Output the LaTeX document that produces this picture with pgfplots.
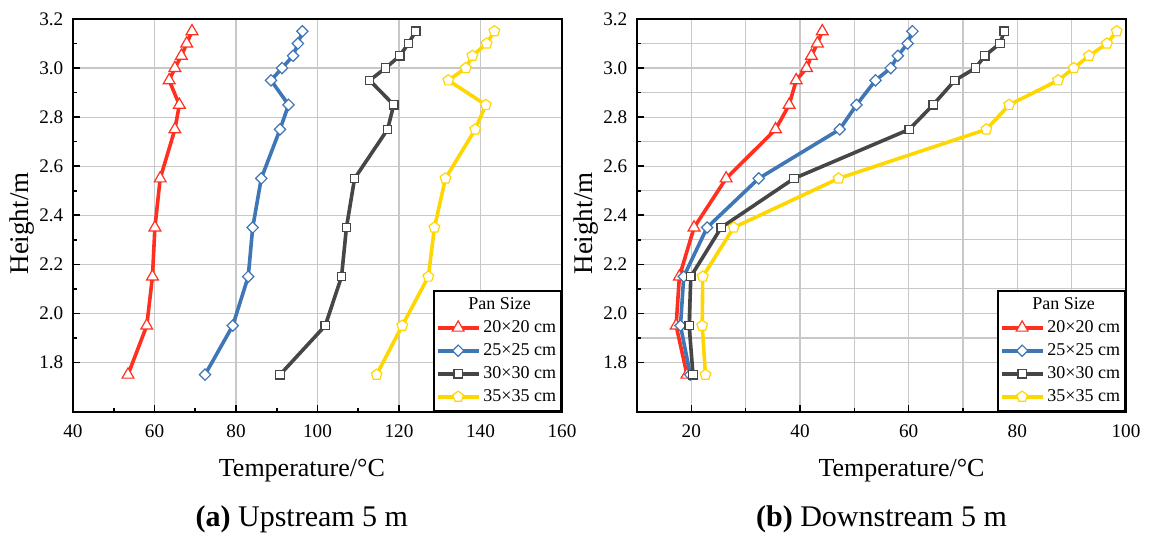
\documentclass[border=0pt]{standalone}
\usepackage{fontspec}
\setmainfont{Liberation Serif}
\usepackage{pgfplots}
\pgfplotsset{compat=1.18}
\definecolor{cred}{RGB}{255,48,32}
\definecolor{cblue}{RGB}{62,118,182}
\definecolor{cgray}{RGB}{70,70,70}
\definecolor{cyel}{RGB}{255,215,0}
\definecolor{cgrid}{RGB}{200,200,200}

\pgfplotsset{
 myaxis/.style={
  scale only axis, width=244.5pt, height=196.25pt,
  ymin=1.6, ymax=3.2, ytick={1.8,2,2.2,2.4,2.6,2.8,3,3.2}, minor y tick num=1,
  tick pos=left, tick align=inside,
  major tick length=3.5pt, minor tick length=2pt,
  tick style={black, line width=0.8pt},
  axis line style={line width=1pt},
  clip mode=individual,
  major grid style={draw=cgrid, line width=0.6pt},
  minor grid style={draw=cgrid, line width=0.6pt},
  /pgf/number format/assume math mode=true,
  yticklabel style={/pgf/number format/fixed, /pgf/number format/fixed zerofill, /pgf/number format/precision=1, font=\fontsize{9.6}{11}\selectfont, xshift=-1.3pt},
  xticklabel style={font=\fontsize{9.6}{11}\selectfont, yshift=-3pt},
  ylabel={Height/m},
  ylabel style={at={(axis description cs:-0.1043,0.479)}, anchor=center, font=\fontsize{13.5}{15}\selectfont},
  legend style={at={(1,0)}, anchor=south east, draw=black, line width=0.9pt, fill=white,
    font=\fontsize{9}{10}\selectfont, inner xsep=1pt, inner ysep=1.2pt, row sep=0pt,
    cells={anchor=west}, nodes={inner xsep=1.5pt, inner ysep=1.7pt, text height=6.6pt, text depth=1.5pt}},
  legend image code/.code={\draw[mark repeat=2,mark phase=2] plot coordinates {(0pt,0pt)(10.25pt,0pt)(20.5pt,0pt)};},
 },
 sred/.style={cred, line width=1.8pt, mark=triangle*, mark size=3.4pt, mark options={fill=white, draw=cred, line width=0.6pt, solid}},
 sblue/.style={cblue, line width=1.8pt, mark=square*, mark size=2pt, mark options={rotate=45, fill=white, draw=cblue, line width=0.6pt, solid}},
 sgray/.style={cgray, line width=1.8pt, mark=square*, mark size=2.1pt, mark options={fill=white, draw=cgray, line width=0.6pt, solid}},
 syel/.style={cyel, line width=1.8pt, mark=pentagon*, mark size=2.8pt, mark options={fill=white, draw=cyel, line width=0.6pt, solid}},
}

\begin{document}
\begin{tikzpicture}
\begin{axis}[myaxis, at={(0pt,0pt)},
  xmin=40, xmax=160, xtick={40,60,80,100,120,140,160}, minor x tick num=1,
  grid=major,
  xlabel={Temperature/°C},
  xlabel style={at={(axis description cs:0.468,0)}, anchor=base, yshift=-32.25pt, font=\fontsize{13}{15}\selectfont},
]
\addlegendimage{empty legend}
\addlegendentry{\hspace*{-7.5pt}Pan Size}
\addplot[sred] coordinates {(53.5,1.75)(58.1,1.95)(59.5,2.15)(60.1,2.35)(61.4,2.55)(65.0,2.75)(66.1,2.85)(63.6,2.95)(65.0,3.0)(66.6,3.05)(67.9,3.1)(69.2,3.15)};
\addlegendentry{20×20 cm}
\addplot[sblue] coordinates {(72.4,1.75)(79.2,1.95)(83.0,2.15)(84.1,2.35)(86.2,2.55)(90.8,2.75)(92.9,2.85)(88.6,2.95)(91.3,3.0)(94.0,3.05)(95.2,3.1)(96.3,3.15)};
\addlegendentry{25×25 cm}
\addplot[sgray] coordinates {(90.8,1.75)(101.9,1.95)(105.9,2.15)(107.1,2.35)(109.1,2.55)(117.2,2.75)(118.7,2.85)(112.8,2.95)(116.7,3.0)(120.2,3.05)(122.3,3.1)(124.1,3.15)};
\addlegendentry{30×30 cm}
\addplot[syel] coordinates {(114.5,1.75)(120.8,1.95)(127.2,2.15)(128.7,2.35)(131.4,2.55)(138.7,2.75)(141.3,2.85)(132.1,2.95)(136.4,3.0)(138.0,3.05)(141.5,3.1)(143.4,3.15)};
\addlegendentry{35×35 cm}
\node[anchor=base, yshift=-57.25pt, font=\fontsize{15}{18}\selectfont] at (axis description cs:0.468,0) {\textbf{(a)} Upstream 5 m};
\end{axis}

\begin{axis}[myaxis, at={(282pt,0pt)},
  xmin=10, xmax=100, xtick={20,40,60,80,100}, minor x tick num=1,
  grid=both,
  xlabel={Temperature/°C},
  xlabel style={at={(axis description cs:0.541,0)}, anchor=base, yshift=-32.25pt, font=\fontsize{13}{15}\selectfont},
]
\addlegendimage{empty legend}
\addlegendentry{\hspace*{-7.5pt}Pan Size}
\addplot[sred] coordinates {(19.2,1.75)(17.2,1.95)(17.8,2.15)(20.5,2.35)(26.4,2.55)(35.5,2.75)(38.0,2.85)(39.3,2.95)(41.2,3.0)(42.1,3.05)(43.2,3.1)(44.1,3.15)};
\addlegendentry{20×20 cm}
\addplot[sblue] coordinates {(19.8,1.75)(18.0,1.95)(18.6,2.15)(22.9,2.35)(32.4,2.55)(47.3,2.75)(50.4,2.85)(53.9,2.95)(56.7,3.0)(58.0,3.05)(59.8,3.1)(60.7,3.15)};
\addlegendentry{25×25 cm}
\addplot[sgray] coordinates {(20.3,1.75)(19.6,1.95)(19.9,2.15)(25.5,2.35)(38.9,2.55)(60.1,2.75)(64.5,2.85)(68.5,2.95)(72.3,3.0)(74.0,3.05)(76.8,3.1)(77.6,3.15)};
\addlegendentry{30×30 cm}
\addplot[syel] coordinates {(22.6,1.75)(22.0,1.95)(22.1,2.15)(27.8,2.35)(47.1,2.55)(74.3,2.75)(78.5,2.85)(87.5,2.95)(90.4,3.0)(93.2,3.05)(96.5,3.1)(98.3,3.15)};
\addlegendentry{35×35 cm}
\node[anchor=base, yshift=-57.25pt, font=\fontsize{15}{18}\selectfont] at (axis description cs:0.5,0) {\textbf{(b)} Downstream 5 m};
\end{axis}
\pgfresetboundingbox
\useasboundingbox (-36.5pt,-62.25pt) rectangle (538pt,205.75pt);
\end{tikzpicture}
\end{document}
